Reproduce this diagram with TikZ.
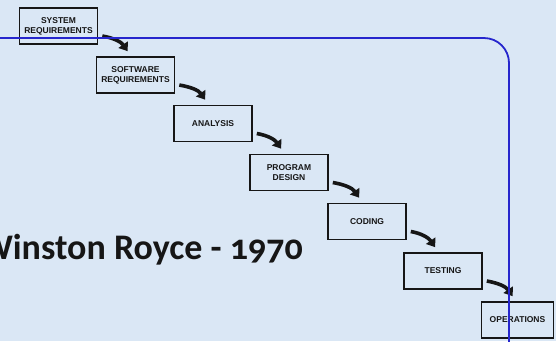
\documentclass[tikz,border=0pt]{standalone}
\usepackage{fontspec}
\setmainfont{Liberation Sans}
\newfontfamily\titlefont[Numbers=OldStyle]{Carlito}
\usetikzlibrary{arrows.meta}
\definecolor{paper}{RGB}{218,231,245}
\definecolor{ink}{RGB}{22,22,22}
\definecolor{rule}{RGB}{38,38,205}
\tikzset{
  stage/.style={draw=ink, line width=1.6pt, fill=paper, minimum width=78pt,
    minimum height=36pt, inner sep=0pt, align=center, text=ink,
    font=\fontsize{8.5}{10}\selectfont\bfseries},
  flow/.style={draw=ink, line width=3.6pt,
    -{Triangle[length=8pt,width=11pt]}},
  outline/.style={draw=rule, line width=1.8pt, rounded corners=25pt}
}
\begin{document}
\begin{tikzpicture}[x=1pt,y=1pt]
  % page area and background
  \fill[paper] (0,0) rectangle (556,-341);
  \useasboundingbox (0,0) rectangle (556,-341);

  % the waterfall stages
  \node[stage] (sys) at (58.5,-26)   {SYSTEM\\REQUIREMENTS};
  \node[stage] (sw)  at (135.5,-75)  {SOFTWARE\\REQUIREMENTS};
  \node[stage] (an)  at (213,-123.5) {ANALYSIS};
  \node[stage] (pd)  at (289,-172.5) {PROGRAM\\DESIGN};
  \node[stage] (cod) at (367,-221.5) {CODING};
  \node[stage] (tst) at (443,-271)   {TESTING};
  \node[stage, minimum width=72pt] (ops) at (517.5,-320) {OPERATIONS};

  % curved arrows from one stage to the next
  \foreach \a/\b in {sys/sw, sw/an, an/pd, pd/cod, cod/tst, tst/ops}{
    \draw[flow] ([xshift=4pt,yshift=-10pt]\a.east)
      to[out=-10,in=125] ([xshift=32pt,yshift=5pt]\b.north west);
  }

  % caption
  \node[anchor=base east, inner sep=0pt, text=ink,
        font=\titlefont\fontsize{36}{40}\selectfont\bfseries]
        (caption) at (303,-259) {Winston Royce - 1970};

  % blue frame line
  \draw[outline] (0,-38) -| (509,-345);
\end{tikzpicture}
\end{document}
